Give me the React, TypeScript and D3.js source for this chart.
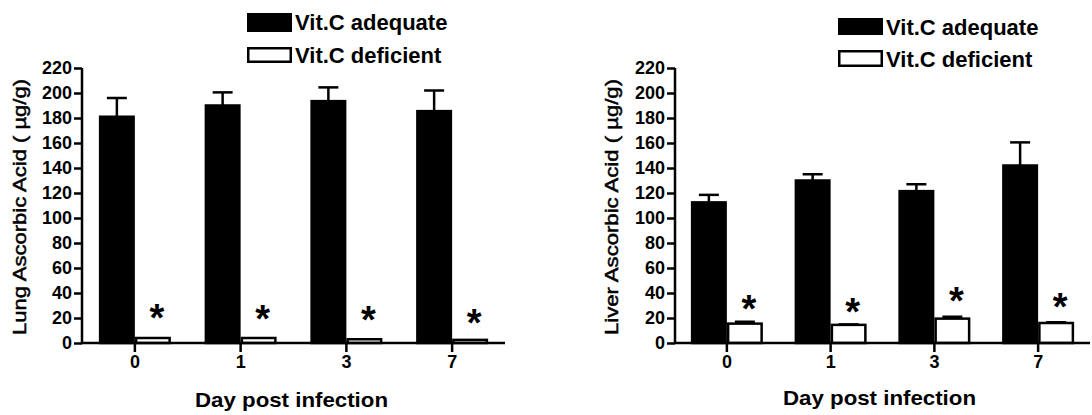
import React, { useEffect, useRef } from "react";
import * as d3 from "d3";

// data
const days = ["0", "1", "3", "7"];
const seriesNames = ["Vit.C adequate", "Vit.C deficient"];
const yTickValues = [0, 20, 40, 60, 80, 100, 120, 140, 160, 180, 200, 220];

const lungAdequate = [181, 190, 193.5, 185.5];
const lungAdequateErr = [15, 10.5, 11, 16.5];
const lungDeficient = [4, 4, 3, 2.5];
const lungDeficientErr = [0, 0, 0, 0];
const lungStars = [27, 26.5, 25.5, 23.5];

const liverAdequate = [112.5, 130, 121.5, 142];
const liverAdequateErr = [6, 5, 5.5, 18.5];
const liverDeficient = [15.5, 14.5, 19.5, 16];
const liverDeficientErr = [1.5, 0.4, 1.5, 0.6];
const liverStars = [34.5, 32, 41, 36];

const FONT = "'Liberation Sans', Arial, Helvetica, sans-serif";

const panels = [
  {
    yLabel: "Lung Ascorbic Acid ( µg/g)",
    left: 82, right: 505, top: 68, bottom: 343,
    labelX: 20, titleX: 291.5, titleY: 407,
    legendX: 247, legendY: [13, 47], legendH: [19, 16], textY: [30, 62.5],
    adequate: lungAdequate, adequateErr: lungAdequateErr,
    deficient: lungDeficient, deficientErr: lungDeficientErr,
    stars: lungStars
  },
  {
    yLabel: "Liver Ascorbic Acid ( µg/g)",
    left: 675, right: 1090, top: 68, bottom: 343,
    labelX: 612, titleX: 879.5, titleY: 405,
    legendX: 838, legendY: [18, 50], legendH: [17, 17], textY: [35, 66.5],
    adequate: liverAdequate, adequateErr: liverAdequateErr,
    deficient: liverDeficient, deficientErr: liverDeficientErr,
    stars: liverStars
  }
];

function drawPanel(svg, p) {
  const g = svg.append("g");

  const x0 = d3.scaleBand().domain(days).range([p.left, p.right]);
  const x1 = d3.scaleBand().domain(seriesNames).range([-36, 36]);
  const y = d3.scaleLinear().domain([0, 220]).range([p.bottom, p.top]);

  const cx = (d) => x0(d) + x0.bandwidth() / 2;

  const rows = days.map((d, i) => [
    { day: d, s: seriesNames[0], v: p.adequate[i], e: p.adequateErr[i] },
    { day: d, s: seriesNames[1], v: p.deficient[i], e: p.deficientErr[i] }
  ]).flat();

  // error bars (upper only)
  const eb = g.selectAll(".err").data(rows.filter((r) => r.e > 0)).join("g")
    .attr("stroke", "#000").attr("stroke-width", 2.5);
  eb.append("line")
    .attr("x1", (r) => cx(r.day) + x1(r.s) + x1.bandwidth() / 2)
    .attr("x2", (r) => cx(r.day) + x1(r.s) + x1.bandwidth() / 2)
    .attr("y1", (r) => y(r.v)).attr("y2", (r) => y(r.v + r.e));
  eb.append("line")
    .attr("x1", (r) => cx(r.day) + x1(r.s) + x1.bandwidth() / 2 - 10)
    .attr("x2", (r) => cx(r.day) + x1(r.s) + x1.bandwidth() / 2 + 10)
    .attr("y1", (r) => y(r.v + r.e)).attr("y2", (r) => y(r.v + r.e));

  // bars
  g.selectAll(".bar").data(rows).join("rect")
    .attr("x", (r) => cx(r.day) + x1(r.s) + 1.25)
    .attr("width", x1.bandwidth() - 2.5)
    .attr("y", (r) => y(r.v))
    .attr("height", (r) => y(0) - y(r.v))
    .attr("fill", (r) => (r.s === seriesNames[0] ? "#000" : "#fff"))
    .attr("stroke", "#000").attr("stroke-width", 2.5);

  // significance stars
  g.selectAll(".star").data(days).join("text")
    .attr("x", (d) => cx(d) + x1(seriesNames[1]) + x1.bandwidth() / 2 + 4)
    .attr("y", (d, i) => y(p.stars[i]) + 22)
    .attr("text-anchor", "middle")
    .attr("font-family", FONT).attr("font-weight", "bold").attr("font-size", 38)
    .text("*");

  // axes
  const yAxis = d3.axisLeft(y).tickValues(yTickValues).tickSize(8).tickPadding(2);
  const ya = g.append("g").attr("transform", `translate(${p.left},0)`).call(yAxis);
  const xAxis = d3.axisBottom(x0).tickSize(9).tickPadding(3);
  const xa = g.append("g").attr("transform", `translate(0,${p.bottom})`).call(xAxis);
  [ya, xa].forEach((a) => {
    a.select(".domain").attr("stroke-width", 2.5).attr("d",
      a === ya ? `M0,${p.bottom}V${p.top}` : `M${p.left},0H${p.right}`);
    a.selectAll(".tick line").attr("stroke-width", 2.5);
    a.selectAll("text").attr("font-family", FONT).attr("font-weight", "bold")
      .attr("font-size", 18).attr("fill", "#000");
  });

  // axis titles
  g.append("text")
    .attr("transform", `translate(${p.labelX},207) rotate(-90)`)
    .attr("dy", "0.35em")
    .attr("text-anchor", "middle")
    .attr("font-family", FONT).attr("font-size", 18)
    .attr("stroke", "#000").attr("stroke-width", 0.5)
    .attr("textLength", 256).attr("lengthAdjust", "spacingAndGlyphs")
    .text(p.yLabel);
  g.append("text")
    .attr("x", p.titleX).attr("y", p.titleY)
    .attr("text-anchor", "middle")
    .attr("font-family", FONT).attr("font-weight", "bold").attr("font-size", 21)
    .attr("textLength", 193).attr("lengthAdjust", "spacingAndGlyphs")
    .text("Day post infection");

  // legend
  seriesNames.forEach((s, i) => {
    g.append("rect")
      .attr("x", p.legendX + 1.25).attr("y", p.legendY[i] + 1.25)
      .attr("width", 42.5).attr("height", p.legendH[i] - 2.5)
      .attr("fill", i === 0 ? "#000" : "#fff")
      .attr("stroke", "#000").attr("stroke-width", 2.5);
    g.append("text")
      .attr("x", p.legendX + 48).attr("y", p.textY[i])
      .attr("font-family", FONT).attr("font-weight", "bold").attr("font-size", 22)
      .text(s);
  });
}

export default function App() {
  const svgRef = useRef(null);

  useEffect(() => {
    const svg = d3.select(svgRef.current);
    svg.selectAll("*").remove();
    panels.forEach((p) => drawPanel(svg, p));
  }, []);

  return (
    <svg
      ref={svgRef}
      width={1092}
      height={415}
      style={{ position: "absolute", left: 0, top: 0, background: "#fff" }}
    />
  );
}
